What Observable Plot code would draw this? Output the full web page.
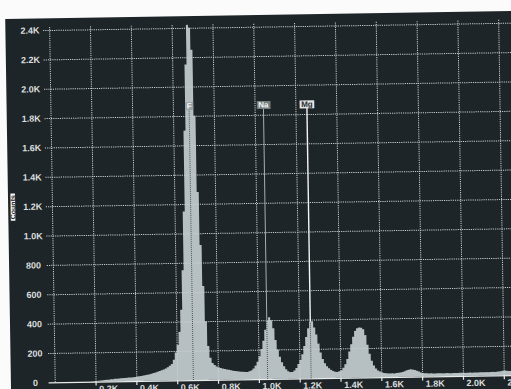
<!DOCTYPE html>
<html>
<head>
<meta charset="utf-8">
<script src="https://cdn.jsdelivr.net/npm/d3@7"></script>
<script src="https://cdn.jsdelivr.net/npm/@observablehq/plot@0.6"></script>
<style>
  html, body { margin: 0; padding: 0; background: #fbfbfb; }
  #screen { position: relative; width: 511px; height: 389px; overflow: hidden; background: #fbfbfb; }
  #screen svg {
    position: absolute; left: 7.5px; top: 14.5px;
    max-width: none !important; background: #1e2528 !important; overflow: visible;
    transform-origin: 248px 180px; transform: rotate(-0.9deg);
  }
</style>
</head>
<body>
<div id="screen"></div>
<script>
// EDS spectrum: counts per 10 eV channel, first channel starts at 0 eV
const channelWidth = 10;
const counts = [
  0, 0, 0, 0, 0, 0, 0, 0, 0, 0,
  0, 0, 0, 0, 0, 0, 0, 0, 2, 3,
  5, 6, 7, 8, 10, 11, 12, 14, 15, 17,
  18, 19, 20, 21, 22, 23, 24, 25, 26, 28,
  30, 32, 34, 36, 39, 42, 45, 48, 52, 56,
  60, 65, 70, 76, 82, 90, 100, 112, 140, 190,
  240, 330, 480, 750, 1150, 1700, 2150, 2420, 2400, 2250,
  1800, 1280, 920, 640, 400, 230, 150, 115, 100, 90,
  84, 79, 75, 72, 69, 66, 63, 60, 58, 56,
  54, 52, 51, 50, 50, 55, 60, 72, 92, 118,
  155, 205, 260, 335, 400, 420, 400, 345, 265, 200,
  150, 112, 85, 64, 50, 44, 45, 55, 72, 98,
  125, 165, 220, 282, 340, 385, 388, 345, 298, 235,
  175, 130, 100, 80, 66, 55, 47, 42, 40, 44,
  52, 68, 92, 128, 178, 228, 278, 318, 335, 340,
  338, 328, 288, 222, 160, 112, 80, 60, 46, 38,
  32, 28, 26, 25, 24, 25, 24, 26, 28, 30,
  33, 38, 44, 48, 50, 48, 45, 40, 34, 28,
  24, 22, 21, 20, 21, 20, 19, 20, 21, 20,
  19, 20, 21, 20, 19, 20, 21, 20, 21, 22,
  21, 20, 21, 22, 21, 22, 21, 22, 23, 22,
  22, 23, 22, 23, 24, 23, 24, 26, 28, 30,
  32, 30, 29, 28, 27, 27, 26
];

// Element markers (K-alpha energies, eV)
const elementSymbols = ["F", "Na", "Mg"];
const elementEnergies = [677, 1041, 1254];

// Axis ticks
const yTickValues = [0, 200, 400, 600, 800, 1000, 1200, 1400, 1600, 1800, 2000, 2200, 2400];
const yTickLabels = ["0", "200", "400", "600", "800", "1.0K", "1.2K", "1.4K", "1.6K", "1.8K", "2.0K", "2.2K", "2.4K"];
const xTickValues = [200, 400, 600, 800, 1000, 1200, 1400, 1600, 1800, 2000, 2200];
const xTickLabels = ["0.2K", "0.4K", "0.6K", "0.8K", "1.0K", "1.2K", "1.4K", "1.6K", "1.8K", "2.0K", "2.2K"];

const energyMax = 2270;
const countMax = 2480;
const labelLevel = 1870;     // counts level where marker tags sit
const gridLeadX = 30;        // eV that horizontal grid lines run left of the axis
const gridLeadY = 25;        // counts that vertical grid lines run above the top line
const tickDepth = 27;        // counts that x ticks hang below the baseline
const highlighted = "Mg";

const spectrum = counts.map((c, i) => ({energy: i * channelWidth, count: c}));
spectrum.push({energy: counts.length * channelWidth, count: counts[counts.length - 1]});

const markers = elementSymbols.map((symbol, i) => {
  const energy = elementEnergies[i];
  const peak = counts[Math.floor(energy / channelWidth)];
  return {symbol, energy, peak, inner: Math.min(peak, labelLevel)};
});

const gridColor = "#c9cece";
const axisColor = "#e8eaea";
const labelColor = "#dadede";
const font = "'Liberation Sans', Arial, sans-serif";

const svg = Plot.plot({
  width: 516,
  height: 382,
  marginLeft: 43.8,
  marginRight: 8.8,
  marginTop: 0,
  marginBottom: 17.9,
  x: {domain: [0, energyMax], axis: null},
  y: {domain: [0, countMax], axis: null},
  style: {fontFamily: font},
  marks: [
    // spectrum histogram
    Plot.areaY(spectrum, {x: "energy", y: "count", curve: "step-after", fill: "#b6c0c2"}),
    // dotted grid
    Plot.ruleY(yTickValues.filter(v => v > 0), {
      y: d => d, x1: -gridLeadX, x2: energyMax,
      stroke: gridColor, strokeDasharray: "1.2,1", strokeWidth: 1
    }),
    Plot.ruleX([0, ...xTickValues], {
      x: d => d, y1: 0, y2: yTickValues[yTickValues.length - 1] + gridLeadY,
      stroke: gridColor, strokeDasharray: "1.2,1", strokeWidth: 1
    }),
    // baseline and ticks
    Plot.ruleY([0], {x1: -gridLeadX, x2: energyMax, stroke: axisColor, strokeWidth: 1.4}),
    Plot.ruleX(xTickValues, {x: d => d, y1: 0, y2: -tickDepth, stroke: axisColor, strokeWidth: 1.2}),
    // marker lines: dark inside the bars, light above the peaks
    Plot.ruleX(markers, {x: "energy", y1: 0, y2: "inner", stroke: "#4d5557", strokeDasharray: "1,1", strokeWidth: 1}),
    Plot.ruleX(markers.filter(m => m.peak < labelLevel && m.symbol !== highlighted), {
      x: "energy", y1: "peak", y2: labelLevel, stroke: "#a8aeae", strokeWidth: 1
    }),
    Plot.ruleX(markers.filter(m => m.peak < labelLevel && m.symbol === highlighted), {
      x: "energy", y1: "peak", y2: labelLevel, stroke: "#f4f4f4", strokeWidth: 1.4
    }),
    // marker tags
    Plot.text(markers.filter(m => m.symbol !== highlighted), {
      x: "energy", y: labelLevel, text: "symbol",
      fill: "#f6f6f6", fontSize: 8, fontWeight: "bold"
    }),
    Plot.text(markers.filter(m => m.symbol === highlighted), {
      x: "energy", y: labelLevel, text: "symbol",
      fill: "#2a2e30", fontSize: 8, fontWeight: "bold"
    }),
    // y tick labels
    Plot.text(yTickValues, {
      x: 0, y: d => d, text: (d, i) => yTickLabels[i],
      dx: -19.8, textAnchor: "middle", fill: labelColor, fontSize: 9, fontWeight: "bold"
    }),
    // x tick labels
    Plot.text(xTickValues, {
      x: d => d, y: 0, text: (d, i) => xTickLabels[i],
      dx: 3, dy: 3.4, textAnchor: "start", lineAnchor: "top",
      fill: labelColor, fontSize: 9, fontWeight: "bold"
    }),
    // y axis title
    Plot.text(["Counts"], {
      x: 0, y: 1200, text: d => d, dx: -39.3, rotate: -90,
      fill: "#262a2c", fontSize: 7, fontWeight: "bold"
    })
  ]
});

document.getElementById("screen").append(svg);

// Tag boxes behind marker symbols and the axis title
const boxStyles = {
  F: {fill: "#98a2a4", padX: 1.5, padY: -0.5},
  Na: {fill: "#737b7d", padX: 1.5, padY: -0.5},
  Mg: {fill: "#e2e5e5", padX: 1.5, padY: -0.5},
  Counts: {fill: "#f4f4f4", padX: 1.5, padY: -1.2}
};
for (const t of svg.querySelectorAll("text")) {
  const style = boxStyles[t.textContent];
  if (!style) continue;
  const b = t.getBBox();
  const r = document.createElementNS("http://www.w3.org/2000/svg", "rect");
  r.setAttribute("x", b.x - style.padX);
  r.setAttribute("y", b.y - style.padY);
  r.setAttribute("width", b.width + 2 * style.padX);
  r.setAttribute("height", b.height + 2 * style.padY);
  r.setAttribute("fill", style.fill);
  const tr = t.getAttribute("transform");
  if (tr) r.setAttribute("transform", tr);
  t.parentNode.insertBefore(r, t);
}
</script>
</body>
</html>
